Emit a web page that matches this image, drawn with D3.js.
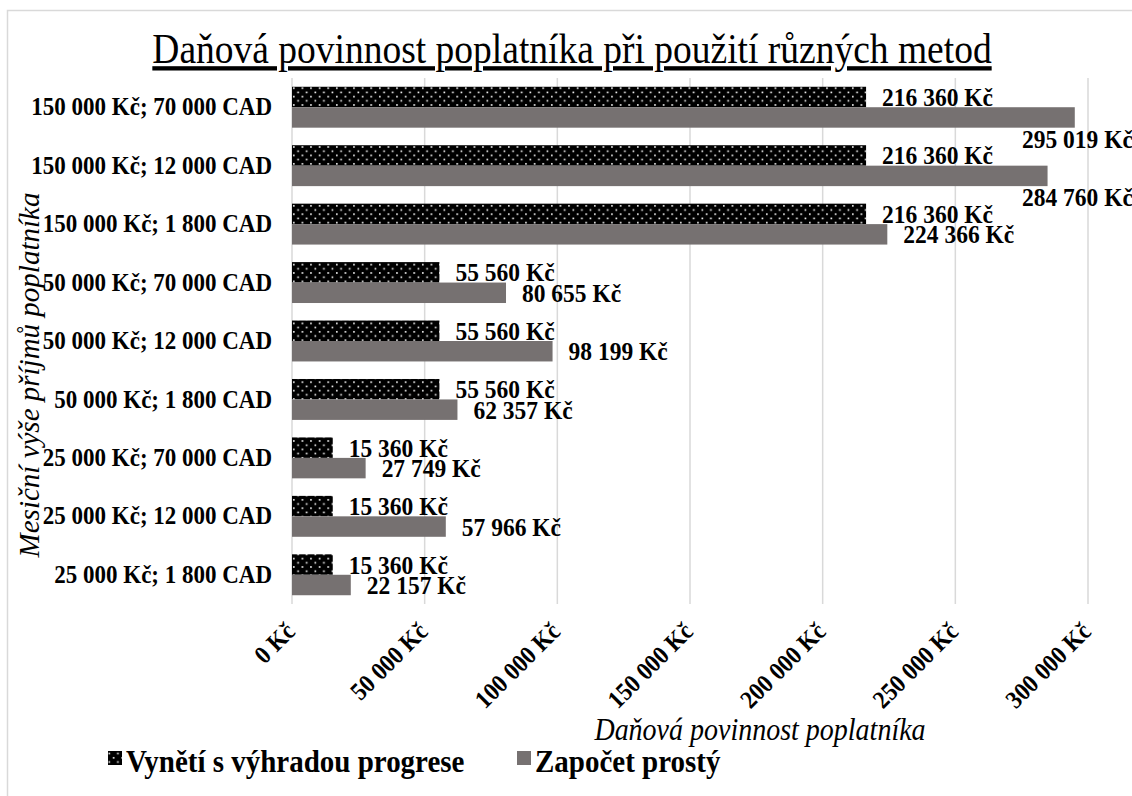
<!DOCTYPE html>
<html>
<head>
<meta charset="utf-8">
<script src="https://cdn.jsdelivr.net/npm/d3@7"></script>
<style>
  body { margin: 0; background: #fff; }
  text { font-family: "Liberation Serif", "Times New Roman", serif; }
</style>
</head>
<body>
<div id="chart"></div>
<script>
// Data (top row first)
const categories = [
  "150 000 Kč; 70 000 CAD",
  "150 000 Kč; 12 000 CAD",
  "150 000 Kč; 1 800 CAD",
  "50 000 Kč; 70 000 CAD",
  "50 000 Kč; 12 000 CAD",
  "50 000 Kč; 1 800 CAD",
  "25 000 Kč; 70 000 CAD",
  "25 000 Kč; 12 000 CAD",
  "25 000 Kč; 1 800 CAD"
];
const vynetiValues = [216360, 216360, 216360, 55560, 55560, 55560, 15360, 15360, 15360];
const zapocetValues = [295019, 284760, 224366, 80655, 98199, 62357, 27749, 57966, 22157];
const seriesNames = ["Vynětí s výhradou progrese", "Započet prostý"];
const xTicks = [0, 50000, 100000, 150000, 200000, 250000, 300000];

const chartTitle = "Daňová povinnost poplatníka při použití různých metod";
const xTitle = "Daňová povinnost poplatníka";
const yTitle = "Mesiční výše příjmů poplatníka";

const W = 1132, H = 796;
const margin = {top: 78, right: 44, bottom: 192, left: 292};
const width = W - margin.left - margin.right,
      height = H - margin.top - margin.bottom;
const tall = 1.1; // the source text looks a bit taller than wide

const cz = d3.formatLocale({decimal: ",", thousands: " ", grouping: [3], currency: ["", " Kč"]});
const fmt = v => cz.format(",.0f")(v) + " Kč";

const svg = d3.select("#chart").append("svg")
  .attr("width", W).attr("height", H);

// pattern for the first series: black with white dots
const defs = svg.append("defs");
const pat = defs.append("pattern")
  .attr("id", "dots").attr("patternUnits", "userSpaceOnUse")
  .attr("width", 8.6).attr("height", 8.4);
pat.append("rect").attr("width", 8.6).attr("height", 8.4).attr("fill", "#000");
pat.append("rect").attr("x", 1).attr("y", 1).attr("width", 1.6).attr("height", 1.6).attr("fill", "#fff");
pat.append("rect").attr("x", 5.3).attr("y", 5.2).attr("width", 1.6).attr("height", 1.6).attr("fill", "#fff");

// chart border
svg.append("rect")
  .attr("x", 7.5).attr("y", 10.5).attr("width", W + 20).attr("height", H + 20)
  .attr("fill", "none").attr("stroke", "#d9d9d9").attr("stroke-width", 1.5);

const g = svg.append("g").attr("transform", `translate(${margin.left},${margin.top})`);

const x = d3.scaleLinear().domain([0, 300000]).range([0, width]);
const y = d3.scaleBand().domain(categories).range([0, height]).paddingInner(0.3).paddingOuter(0.15);
const ySub = d3.scaleBand().domain([0, 1]).range([0, y.bandwidth()]);

// gridlines
g.append("g").selectAll("line").data(xTicks).join("line")
  .attr("x1", d => x(d)).attr("x2", d => x(d))
  .attr("y1", 0).attr("y2", height)
  .attr("stroke", "#d9d9d9").attr("stroke-width", 1.5);

// x axis tick labels
const xAxis = g.append("g").attr("transform", `translate(0,${height})`)
  .call(d3.axisBottom(x).tickValues(xTicks).tickFormat(fmt).tickSize(0));
xAxis.select(".domain").remove();
xAxis.selectAll("text")
  .attr("font-size", 23).attr("font-weight", "bold").attr("fill", "#000")
  .attr("text-anchor", "end")
  .attr("dy", null).attr("y", 0)
  .attr("transform", `translate(4,29) rotate(-45) scale(1,${tall})`);

// y axis labels
const yAxis = g.append("g")
  .call(d3.axisLeft(y).tickSize(0).tickPadding(20));
yAxis.select(".domain").remove();
yAxis.selectAll("text")
  .attr("font-size", 23).attr("font-weight", "bold").attr("fill", "#000")
  .attr("transform", `scale(1,${tall})`);

const rows = categories.map((c, i) => ({cat: c, v: [vynetiValues[i], zapocetValues[i]]}));

// bars
const fills = ["url(#dots)", "#767171"];
rows.forEach(r => {
  r.v.forEach((v, s) => {
    g.append("rect")
      .attr("x", 0)
      .attr("y", y(r.cat) + ySub(s))
      .attr("width", x(v))
      .attr("height", ySub.bandwidth())
      .attr("fill", fills[s]);
  });
});

// value labels
const labelMaxX = 1022 - margin.left;
rows.forEach(r => {
  r.v.forEach((v, s) => {
    let lx = x(v) + 16;
    let ly = y(r.cat) + ySub(s) + ySub.bandwidth() / 2;
    if (lx > labelMaxX) { lx = labelMaxX; ly += 21; }
    g.append("text")
      .attr("transform", `translate(${lx},${ly}) scale(1,${tall})`)
      .attr("dy", "0.35em")
      .attr("font-size", 23.5).attr("font-weight", "bold")
      .text(fmt(v));
  });
});

// titles
svg.append("text")
  .attr("transform", `translate(572,63) scale(1,1.15)`)
  .attr("text-anchor", "middle")
  .attr("font-size", 37.5)
  .style("text-decoration", "underline")
  .text(chartTitle);

svg.append("text")
  .attr("transform", `translate(760,740) scale(1,${tall})`)
  .attr("text-anchor", "middle")
  .attr("font-size", 28).attr("font-style", "italic")
  .text(xTitle);

svg.append("text")
  .attr("transform", "translate(39,375) rotate(-90)")
  .attr("text-anchor", "middle")
  .attr("font-size", 29).attr("font-style", "italic")
  .text(yTitle);

// legend
const legendX = [108, 517];
seriesNames.forEach((name, i) => {
  svg.append("rect")
    .attr("x", legendX[i]).attr("y", 751)
    .attr("width", 14).attr("height", 14)
    .attr("fill", fills[i]);
  svg.append("text")
    .attr("transform", `translate(${legendX[i] + 18},772) scale(1,${tall})`)
    .attr("font-size", 29).attr("font-weight", "bold")
    .text(name);
});
</script>
</body>
</html>
